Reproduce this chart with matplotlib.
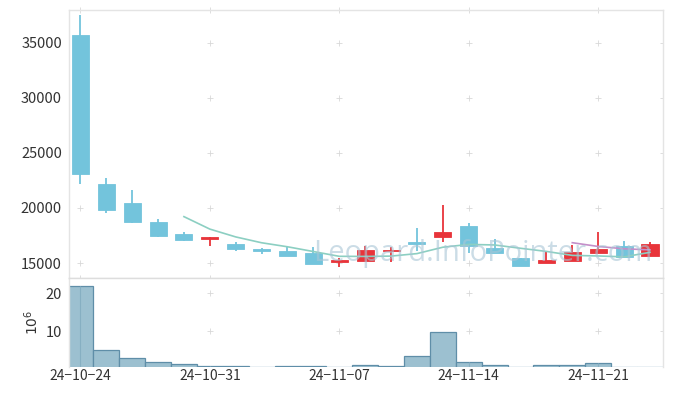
import matplotlib
matplotlib.use("Agg")
import matplotlib.pyplot as plt
import numpy as np
import pandas as pd

plt.rcParams["font.family"] = ["Noto Sans CJK KR", "DejaVu Sans"]

# trading days shown on the chart
dates = ["24-10-24", "24-10-25", "24-10-28", "24-10-29", "24-10-30", "24-10-31",
         "24-11-01", "24-11-04", "24-11-05", "24-11-06", "24-11-07", "24-11-08",
         "24-11-11", "24-11-12", "24-11-13", "24-11-14", "24-11-15", "24-11-18",
         "24-11-19", "24-11-20", "24-11-21", "24-11-22", "24-11-25"]
opens = [35700, 22200, 20450, 18750, 17650, 17200, 16750, 16300, 16100, 15950, 15080, 15150,
         16050, 16870, 17350, 18400, 16400, 15420, 14970, 15180, 15880, 16500, 15640]
highs = [37480, 22730, 21650, 19000, 17850, 17400, 16940, 16400, 16500, 16420, 15450, 16500,
         16450, 18180, 20250, 18650, 17200, 15450, 16030, 16670, 17820, 16970, 16900]
lows = [22180, 19550, 18630, 17330, 16960, 16580, 16060, 15850, 15600, 14880, 14640, 15150,
        15050, 16120, 16900, 15880, 15950, 14700, 14970, 15180, 15880, 15550, 15640]
closes = [23050, 19800, 18700, 17420, 17060, 17400, 16250, 16050, 15600, 14900, 15230, 16200,
          16200, 16730, 17800, 16500, 15950, 14700, 15300, 16000, 16240, 15550, 16750]
volumes = [21.95, 5.1, 2.97, 1.9, 1.36, 0.83, 0.83, 0.56, 0.83, 0.83, 0.56, 1.1,
           0.83, 3.5, 9.65, 1.9, 1.1, 0.56, 1.1, 1.1, 1.63, 0.56, 0.56]  # 10^6 shares

UP = "#e8343a"
DOWN = "#73c4dc"
GRID = "#d8d8d8"
SPINE = "#e4e4e4"
TXT = "#333333"

df = pd.DataFrame({"open": opens, "high": highs, "low": lows, "close": closes, "vol": volumes})
x = np.arange(len(df))
ma5 = df["close"].rolling(5).mean()
ma20 = df["close"].rolling(20).mean()
colors = [UP if c >= o else DOWN for o, c in zip(df.open, df.close)]

fig = plt.figure(figsize=(6.73, 3.96), dpi=100)
ax = fig.add_axes([0.1025, 0.298, 0.8825, 0.677])
axv = fig.add_axes([0.1025, 0.074, 0.8825, 0.224], sharex=ax)

# candles
body_lo = np.minimum(df.open, df.close)
body_h = (df.close - df.open).abs()
ax.vlines(x, df.low, df.high, colors=colors, linewidth=1.3, zorder=2)
ax.bar(x, body_h, bottom=body_lo, width=0.66, color=colors, edgecolor=colors,
       linewidth=0.6, zorder=3)
ax.plot(x, ma5, color="#8ccfc2", linewidth=1.2, zorder=4)
ax.plot(x, ma20, color="#c48fc9", linewidth=1.2, zorder=4)

xticks = [0, 5, 10, 15, 20]

# volume
axv.bar(x, df.vol, width=1.0, color="#9cc0d0", edgecolor="#5f8ea8", linewidth=0.9, zorder=2)
axv.vlines(xticks, 0, df.vol[xticks], colors="#86afc2", linewidth=0.8, zorder=3)

ax.set_xlim(-0.44, 22.5)
ax.set_ylim(13640, 37960)
axv.set_ylim(0.56, 24.1)

yt = [15000, 20000, 25000, 30000, 35000]
ax.set_yticks(yt)
axv.set_yticks([10, 20])
axv.set_xticks(xticks)
axv.set_xticklabels([d.replace("-", "\u2212") for d in (dates[i] for i in xticks)])
ax.tick_params(axis="x", labelbottom=False)

# plus-shaped grid marks at tick crossings
gx, gy = np.meshgrid(xticks + [22.5], yt)
ax.scatter(gx.ravel(), gy.ravel(), marker="+", s=14, color=GRID, linewidths=0.6, zorder=1)
gx, gy = np.meshgrid(xticks + [22.5], [10, 20])
axv.scatter(gx.ravel(), gy.ravel(), marker="+", s=14, color=GRID, linewidths=0.6, zorder=0)
for i in xticks:
    ax.scatter([i, i], [37960, 13640], marker="+", s=14, color=GRID, linewidths=0.6,
               zorder=1, clip_on=False)

for a in (ax, axv):
    a.tick_params(length=0, labelsize=10.5, colors=TXT, pad=5)
    for s in a.spines.values():
        s.set_color(SPINE)
        s.set_linewidth(1.0)
axv.spines["bottom"].set_visible(False)
axv.spines["top"].set_color("#dddddd")
axv.tick_params(axis="x", pad=2, labelsize=10)

axv.set_ylabel("$10^6$", fontsize=10, color=TXT, labelpad=3)

# watermark
ax.text(0.697, 0.093, "Leopard.InfoPointer.com", transform=ax.transAxes, ha="center",
        va="center", fontsize=21, color="#a9c6d6", alpha=0.6, zorder=10,
        family=["Open Sans", "DejaVu Sans"])

fig.savefig("out.png", dpi=100)
